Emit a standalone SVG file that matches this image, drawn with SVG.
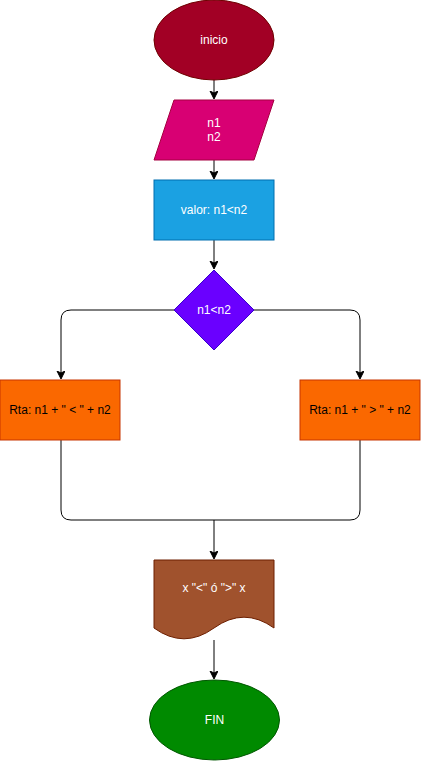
<svg xmlns="http://www.w3.org/2000/svg" width="421" height="761" viewBox="0 0 421 761">
  <style>
    text { font-family: "Liberation Sans", Arial, Helvetica, sans-serif; font-size: 12px; text-anchor: middle; dominant-baseline: central; }
    .light { fill: #ffffff; }
    .dark { fill: #000000; }
    .edge { fill: none; stroke: #000000; stroke-width: 1; }
  </style>
  <defs>
    <marker id="arrow" markerWidth="10" markerHeight="10" refX="7" refY="4" orient="auto" markerUnits="userSpaceOnUse">
      <path d="M0,0 L8,4 L0,8 L2,4 Z" fill="#000000" stroke="#000000" stroke-width="1"/>
    </marker>
  </defs>
  <rect width="421" height="761" fill="#ffffff"/>

  <g id="connectors">
    <path class="edge" d="M214,80 V98" marker-end="url(#arrow)"/>
    <path class="edge" d="M214,160 V178" marker-end="url(#arrow)"/>
    <path class="edge" d="M214,240 V268" marker-end="url(#arrow)"/>
    <path class="edge" d="M174,310 H71 Q61,310 61,320 V378" marker-end="url(#arrow)"/>
    <path class="edge" d="M254,310 H350 Q360,310 360,320 V378" marker-end="url(#arrow)"/>
    <path class="edge" d="M61,440 V510 Q61,520 71,520 H214"/>
    <path class="edge" d="M360,440 V510 Q360,520 350,520 H214"/>
    <path class="edge" d="M214,520 V558" marker-end="url(#arrow)"/>
    <path class="edge" d="M214,640 V678" marker-end="url(#arrow)"/>
  </g>

  <g id="inicio">
    <ellipse cx="214" cy="40" rx="60" ry="40" fill="#a20025" stroke="#6f0000"/>
    <text class="light" x="214" y="40">inicio</text>
  </g>

  <g id="entrada">
    <polygon points="174,100 274,100 254,160 154,160" fill="#d80073" stroke="#a50040"/>
    <text class="light" x="214" y="123">n1</text>
    <text class="light" x="214" y="137">n2</text>
  </g>

  <g id="valor">
    <rect x="154" y="180" width="120" height="60" fill="#1ba1e2" stroke="#006eaf"/>
    <text class="light" x="214" y="210">valor: n1&lt;n2</text>
  </g>

  <g id="decision">
    <polygon points="214,270 254,310 214,350 174,310" fill="#6a00ff" stroke="#3700cc"/>
    <text class="light" x="214" y="310">n1&lt;n2</text>
  </g>

  <g id="menor">
    <rect x="0" y="380" width="120" height="60" fill="#fa6800" stroke="#c73500"/>
    <text class="dark" x="60" y="410">Rta: n1 + " &lt; " + n2</text>
  </g>

  <g id="mayor">
    <rect x="300" y="380" width="120" height="60" fill="#fa6800" stroke="#c73500"/>
    <text class="dark" x="360" y="410">Rta: n1 + " &gt; " + n2</text>
  </g>

  <g id="salida">
    <path d="M154,560 L274,560 L274,628 Q244,606.4 214,628 Q184,649.6 154,628 Z" fill="#a0522d" stroke="#6d1f00"/>
    <text class="light" x="214" y="588">x "&lt;" ó "&gt;" x</text>
  </g>

  <g id="fin">
    <ellipse cx="214.5" cy="720" rx="65" ry="40" fill="#008a00" stroke="#005700"/>
    <text class="light" x="214.5" y="720">FIN</text>
  </g>
</svg>
